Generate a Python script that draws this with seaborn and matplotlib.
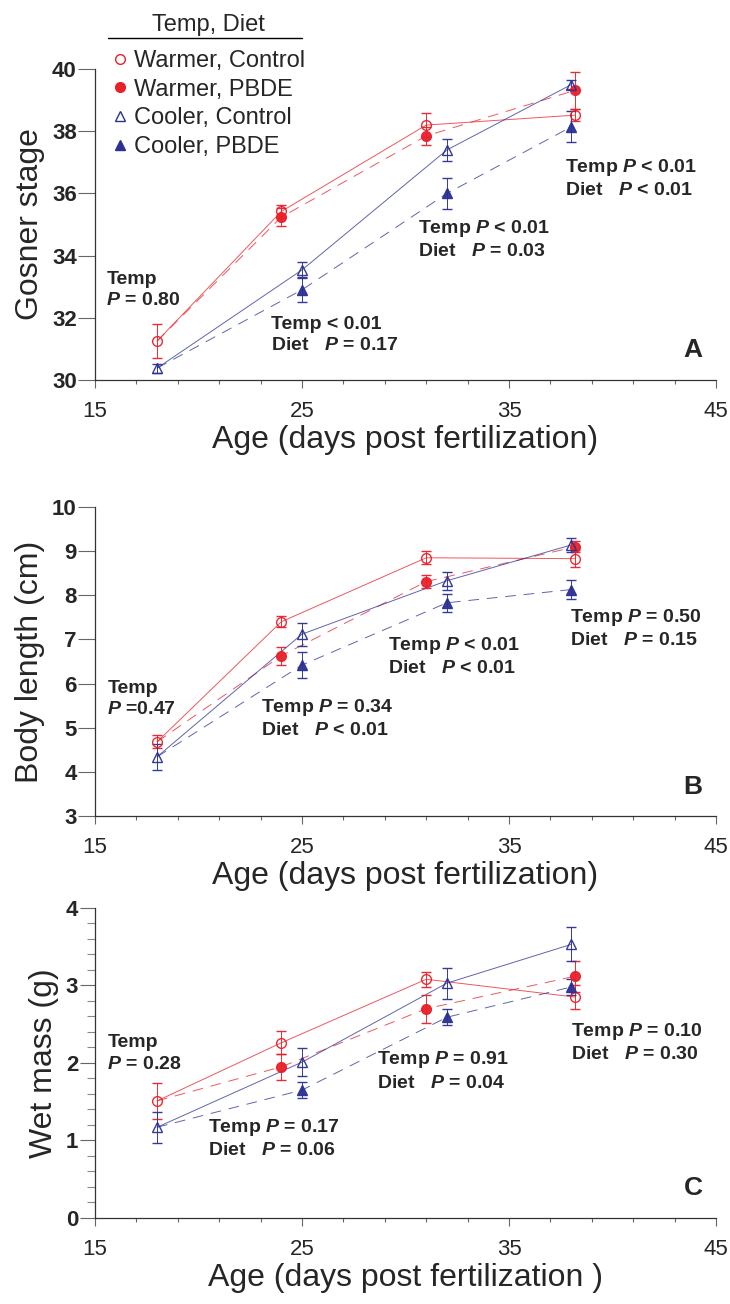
import matplotlib
matplotlib.use("Agg")
import matplotlib.pyplot as plt
from matplotlib.lines import Line2D
from matplotlib.ticker import FixedLocator, MultipleLocator
import numpy as np
import pandas as pd
import seaborn as sns

# sampling ages (days post fertilization)
days_warm = [18, 24, 31, 38.2]
days_cool = [18, 25, 32, 38]

groups = ["Warmer, Control", "Warmer, PBDE", "Cooler, Control", "Cooler, PBDE"]

# Gosner stage, mean and SE
stage_wc = [31.25, 35.42, 38.2, 38.52]
stage_wc_se = [0.55, 0.2, 0.38, 0.2]
stage_wp = [31.25, 35.24, 37.85, 39.32]
stage_wp_se = [np.nan, 0.3, 0.3, 0.6]
stage_cc = [30.38, 33.54, 37.4, 39.5]
stage_cc_se = [0.15, 0.25, 0.35, 0.15]
stage_cp = [30.38, 32.9, 36.0, 38.14]
stage_cp_se = [np.nan, 0.4, 0.5, 0.5]

# body length (cm)
length_wc = [4.68, 7.4, 8.85, 8.83]
length_wc_se = [0.15, 0.12, 0.15, 0.2]
length_wp = [4.68, 6.63, 8.31, 9.1]
length_wp_se = [np.nan, 0.2, 0.15, 0.12]
length_cc = [4.34, 7.12, 8.33, 9.14]
length_cc_se = [0.3, 0.26, 0.2, 0.15]
length_cp = [4.34, 6.42, 7.83, 8.13]
length_cp_se = [np.nan, 0.3, 0.2, 0.22]

# wet mass (g)
mass_wc = [1.51, 2.26, 3.08, 2.85]
mass_wc_se = [0.23, 0.15, 0.1, 0.15]
mass_wp = [1.51, 1.95, 2.7, 3.12]
mass_wp_se = [np.nan, 0.17, 0.18, 0.2]
mass_cc = [1.17, 2.01, 3.03, 3.53]
mass_cc_se = [0.2, 0.18, 0.2, 0.22]
mass_cp = [1.17, 1.65, 2.59, 2.98]
mass_cp_se = [np.nan, 0.1, 0.1, 0.1]

stage_notes = [(15.55, 32.9, "Temp\n$P$ = 0.80"),
               (23.5, 31.45, "Temp < 0.01\nDiet   $P$ = 0.17"),
               (30.6, 34.53, "Temp $P$ < 0.01\nDiet   $P$ = 0.03"),
               (37.7, 36.5, "Temp $P$ < 0.01\nDiet   $P$ < 0.01")]
length_notes = [(15.6, 5.65, "Temp\n$P$ =0.47"),
                (23.0, 5.22, "Temp $P$ = 0.34\nDiet   $P$ < 0.01"),
                (29.15, 6.63, "Temp $P$ < 0.01\nDiet   $P$ < 0.01"),
                (37.95, 7.26, "Temp $P$ = 0.50\nDiet   $P$ = 0.15")]
mass_notes = [(15.6, 2.12, "Temp\n$P$ = 0.28"),
              (20.46, 1.03, "Temp $P$ = 0.17\nDiet   $P$ = 0.06"),
              (28.6, 1.90, "Temp $P$ = 0.91\nDiet   $P$ = 0.04"),
              (38.0, 2.27, "Temp $P$ = 0.10\nDiet   $P$ = 0.30")]

RED = "#e8202a"
BLUE = "#2a3192"
palette = {groups[0]: RED, groups[1]: RED, groups[2]: BLUE, groups[3]: BLUE}
dashes = {groups[0]: "", groups[1]: (11, 8), groups[2]: "", groups[3]: (11, 8)}
markers = {groups[0]: "o", groups[1]: "o", groups[2]: "^", groups[3]: "^"}
filled = {groups[0]: False, groups[1]: True, groups[2]: False, groups[3]: True}


def to_long(series, errors):
    rows = []
    for g, vals, errs in zip(groups, series, errors):
        days = days_warm if g.startswith("Warmer") else days_cool
        for d, v, e in zip(days, vals, errs):
            rows.append({"group": g, "age": d, "value": v, "se": e})
    return pd.DataFrame(rows)


sns.set_style("ticks")
plt.rcParams["font.family"] = ["Liberation Sans", "DejaVu Sans"]
plt.rcParams["mathtext.fontset"] = "custom"
plt.rcParams["mathtext.it"] = "Liberation Sans:italic:bold"
plt.rcParams["mathtext.rm"] = "Liberation Sans:bold"
plt.rcParams["mathtext.bf"] = "Liberation Sans:bold"

fig = plt.figure(figsize=(7.3, 13.04), dpi=100)
left, width = 0.130, 0.851
ax_a = fig.add_axes([left, 0.7086, width, 0.2384])
ax_b = fig.add_axes([left, 0.3742, width, 0.2370])
ax_c = fig.add_axes([left, 0.0660, width, 0.2377])

panels = [
    (ax_a, to_long([stage_wc, stage_wp, stage_cc, stage_cp],
                   [stage_wc_se, stage_wp_se, stage_cc_se, stage_cp_se]),
     "Gosner stage", "Age (days post fertilization)", (30, 40), 2, None, stage_notes, "A"),
    (ax_b, to_long([length_wc, length_wp, length_cc, length_cp],
                   [length_wc_se, length_wp_se, length_cc_se, length_cp_se]),
     "Body length (cm)", "Age (days post fertilization)", (3, 10), 1, None, length_notes, "B"),
    (ax_c, to_long([mass_wc, mass_wp, mass_cc, mass_cp],
                   [mass_wc_se, mass_wp_se, mass_cc_se, mass_cp_se]),
     "Wet mass (g)", "Age (days post fertilization )", (0, 4), 1, 0.2, mass_notes, "C"),
]

for ax, df, ylab, xlab, ylim, ystep, yminor, notes, letter in panels:
    sns.lineplot(data=df, x="age", y="value", hue="group", style="group",
                 hue_order=groups, style_order=groups, palette=palette,
                 dashes=dashes, estimator=None, lw=0.7, alpha=0.75,
                 legend=False, ax=ax)
    for g in groups:
        sub = df[(df.group == g) & df.se.notna()]
        col = palette[g]
        ax.errorbar(sub.age, sub.value, yerr=sub.se, fmt=markers[g],
                    ms=7.5 if markers[g] == "^" else 7,
                    mfc=col if filled[g] else "none", mec=col, mew=1.0,
                    ecolor=col, elinewidth=0.7, capsize=3.5, capthick=0.7,
                    alpha=0.95, clip_on=False, zorder=3)

    ax.set_xlim(15, 45)
    ax.set_ylim(*ylim)
    ax.xaxis.set_major_locator(FixedLocator([15, 25, 35, 45]))
    ax.xaxis.set_minor_locator(FixedLocator(np.arange(15, 46, 2)))
    ax.yaxis.set_major_locator(MultipleLocator(ystep))
    if yminor:
        ax.yaxis.set_minor_locator(MultipleLocator(yminor))
    ax.tick_params(axis="x", which="major", length=6, width=0.8, color="#666666",
                   pad=9, labelsize=16)
    ax.tick_params(axis="x", which="minor", length=3, width=0.8, color="#666666")
    ax.tick_params(axis="y", which="major", length=12 if not yminor else 11,
                   width=0.8, color="#666666", pad=1, labelsize=16)
    ax.tick_params(axis="y", which="minor", length=6, width=0.8, color="#888888")
    for lab in ax.get_yticklabels():
        lab.set_fontweight("bold")
    for side in ["top", "right"]:
        ax.spines[side].set_visible(False)
    for side in ["left", "bottom"]:
        ax.spines[side].set_color("#333333")
        ax.spines[side].set_linewidth(0.9)

    ax.set_xlabel(xlab, fontsize=23, labelpad=2)
    ax.set_ylabel(ylab, fontsize=23, labelpad=5)

    for x, y, txt in notes:
        ax.text(x, y, txt, fontsize=14, fontweight="bold", ha="left",
                va="center", linespacing=1.35)
    ax.text(0.963, 0.095, letter, transform=ax.transAxes, fontsize=19,
            fontweight="bold", ha="center", va="center")

handles = [Line2D([], [], ls="none", marker=markers[g], ms=7,
                  mfc=palette[g] if filled[g] else "none", mec=palette[g], mew=1.0)
           for g in groups]
leg = fig.legend(handles, groups, title="Temp, Diet", loc="upper left",
                 bbox_to_anchor=(0.135, 1.0), frameon=False, fontsize=17,
                 title_fontsize=17, handlelength=0.6, handletextpad=0.3,
                 labelspacing=0.28, borderaxespad=0.2)
leg._legend_box.sep = 10
fig.add_artist(Line2D([0.148, 0.414], [0.971, 0.971], color="black", lw=1.0,
                      transform=fig.transFigure))

fig.savefig("out.png", dpi=100)
